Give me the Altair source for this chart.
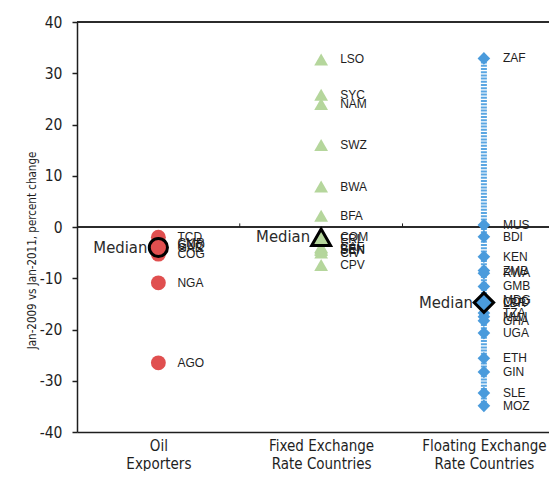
import altair as alt
import pandas as pd

# ---- data ----
categories = ["Oil\nExporters", "Fixed Exchange\nRate Countries", "Floating Exchange\nRate Countries"]

oil_codes = ["TCD", "CMR", "GNQ", "GAB", "COG", "NGA", "AGO"]
oil_vals = [-2.0, -3.2, -3.6, -4.0, -5.3, -10.9, -26.5]

fixed_codes = ["LSO", "SYC", "NAM", "SWZ", "BWA", "BFA", "COM", "ERI", "CAF", "BEN", "SEN", "CIV", "CPV"]
fixed_vals = [32.7, 25.8, 24.0, 16.0, 7.9, 2.2, -2.0, -2.3, -3.9, -4.2, -4.5, -5.0, -7.4]

float_codes = ["ZAF", "MUS", "BDI", "KEN", "ZMB", "RWA", "GMB", "MDG", "COD", "LBR",
               "TZA", "MWI", "GHA", "UGA", "ETH", "GIN", "SLE", "MOZ"]
float_vals = [32.9, 0.4, -1.9, -5.8, -8.5, -9.0, -11.6, -14.2, -14.6, -14.9,
              -16.8, -17.5, -18.3, -20.7, -25.6, -28.3, -32.4, -34.9]

boundaries = [0.5, 1.5]
y_ticks = [-40, -30, -20, -10, 0, 10, 20, 30, 40]

group_names = ["Oil", "Fixed", "Floating"]
group_colors = ["#E04F4F", "#B5D69C", "#4A9BDC"]
group_shapes = ["circle", "triangle-up", "diamond"]

rows = []
for gi, (codes, vals) in enumerate([(oil_codes, oil_vals), (fixed_codes, fixed_vals), (float_codes, float_vals)]):
    for c, v in zip(codes, vals):
        rows.append({"group": group_names[gi], "idx": gi, "code": c, "value": v})
df = pd.DataFrame(rows)
med = df.groupby(["group", "idx"], as_index=False)["value"].median()
med["label"] = "Median"
bdf = pd.DataFrame({"b": boundaries})

NARROW = "Liberation Sans Narrow, Arial Narrow, DejaVu Sans Condensed, sans-serif"
INK = "#1e1e1e"

label_expr = " : ".join(
    f"datum.value == {i} ? {[s for s in cat.split(chr(10))]!r}" for i, cat in enumerate(categories)
) + " : ''"

xscale = alt.Scale(domain=[-0.5, 2.4], nice=False, zero=False)
yscale = alt.Scale(domain=[-40, 40], nice=False)

x_enc = alt.X("idx:Q", scale=xscale, title=None,
              axis=alt.Axis(values=[0, 1, 2], labelExpr=label_expr, ticks=False, grid=False,
                            domainColor=INK, domainWidth=1.5, labelFont=NARROW, labelFontSize=15,
                            labelColor=INK, labelPadding=6, labelLineHeight=18, labelFlush=False,
                            labelOverlap=False, labelBaseline="top"))
y_enc = alt.Y("value:Q", scale=yscale,
              title="Jan-2009 vs Jan-2011, percent change",
              axis=alt.Axis(values=y_ticks, labelExpr="'' + datum.value", grid=False,
                            tickSize=5, tickColor=INK, tickWidth=1.5, domainColor=INK, domainWidth=1.5,
                            labelFont=NARROW, labelFontSize=15.5, labelColor=INK, labelPadding=10,
                            titleFont=NARROW, titleFontSize=11.5, titleFontWeight="normal",
                            titleColor=INK, titleX=-45, titleY=228, titleBaseline="middle"))

color_s = alt.Scale(domain=group_names, range=group_colors)
shape_s = alt.Scale(domain=group_names, range=group_shapes)

base = alt.Chart(df)

top_line = alt.Chart(bdf).mark_rule(color=INK, strokeWidth=1.5).encode(y=alt.datum(40, scale=yscale))
zero_line = alt.Chart(bdf).mark_rule(color=INK, strokeWidth=1.5).encode(y=alt.datum(0))
bticks = alt.Chart(bdf).mark_rule(color=INK, strokeWidth=1).encode(
    x=alt.X("b:Q", scale=xscale), y=alt.datum(0), y2=alt.datum(0.7))

float_line = alt.Chart(df[df.group == "Floating"]).mark_rule(
    color="#5AA6E2", strokeWidth=6, strokeDash=[2, 1.2]).encode(
    x=alt.X("idx:Q", scale=xscale), y=alt.Y("max(value):Q", scale=yscale), y2="min(value)")

points = base.mark_point(filled=True, opacity=1).encode(
    x=x_enc, y=y_enc,
    color=alt.Color("group:N", scale=color_s, legend=None),
    shape=alt.Shape("group:N", scale=shape_s, legend=None),
    size=alt.Size("group:N", scale=alt.Scale(domain=group_names, range=[220, 160, 100]), legend=None),
)

med_pts = alt.Chart(med).mark_point(filled=True, opacity=1, stroke="black", strokeWidth=3).encode(
    x=alt.X("idx:Q", scale=xscale), y=alt.Y("value:Q", scale=yscale),
    fill=alt.Fill("group:N", scale=color_s, legend=None),
    shape=alt.Shape("group:N", scale=shape_s, legend=None),
    size=alt.Size("group:N", scale=alt.Scale(domain=group_names, range=[330, 380, 300]), legend=None),
)

codes_txt = base.mark_text(align="left", baseline="middle", dx=19, font="Liberation Sans, Arial, sans-serif",
                           fontSize=12, color=INK).encode(
    x=alt.X("idx:Q", scale=xscale), y=alt.Y("value:Q", scale=yscale), text="code:N")

med_txt = alt.Chart(med).mark_text(align="right", baseline="middle", dx=-11, font=NARROW,
                                   fontSize=16.5, color="#2a2a2a").encode(
    x=alt.X("idx:Q", scale=xscale), y=alt.Y("value:Q", scale=yscale), text="label:N")

chart = alt.layer(top_line, zero_line, bticks, float_line, points, med_pts, codes_txt, med_txt).resolve_scale(
    size="independent").properties(
    width=472, height=410,
    autosize=alt.AutoSizeParams(type="none"),
    padding={"left": 69, "top": 14, "right": 0, "bottom": 39},
    background="white",
).configure_view(strokeWidth=0)

chart.save("out.html", embed_options={"renderer": "svg", "actions": False})
